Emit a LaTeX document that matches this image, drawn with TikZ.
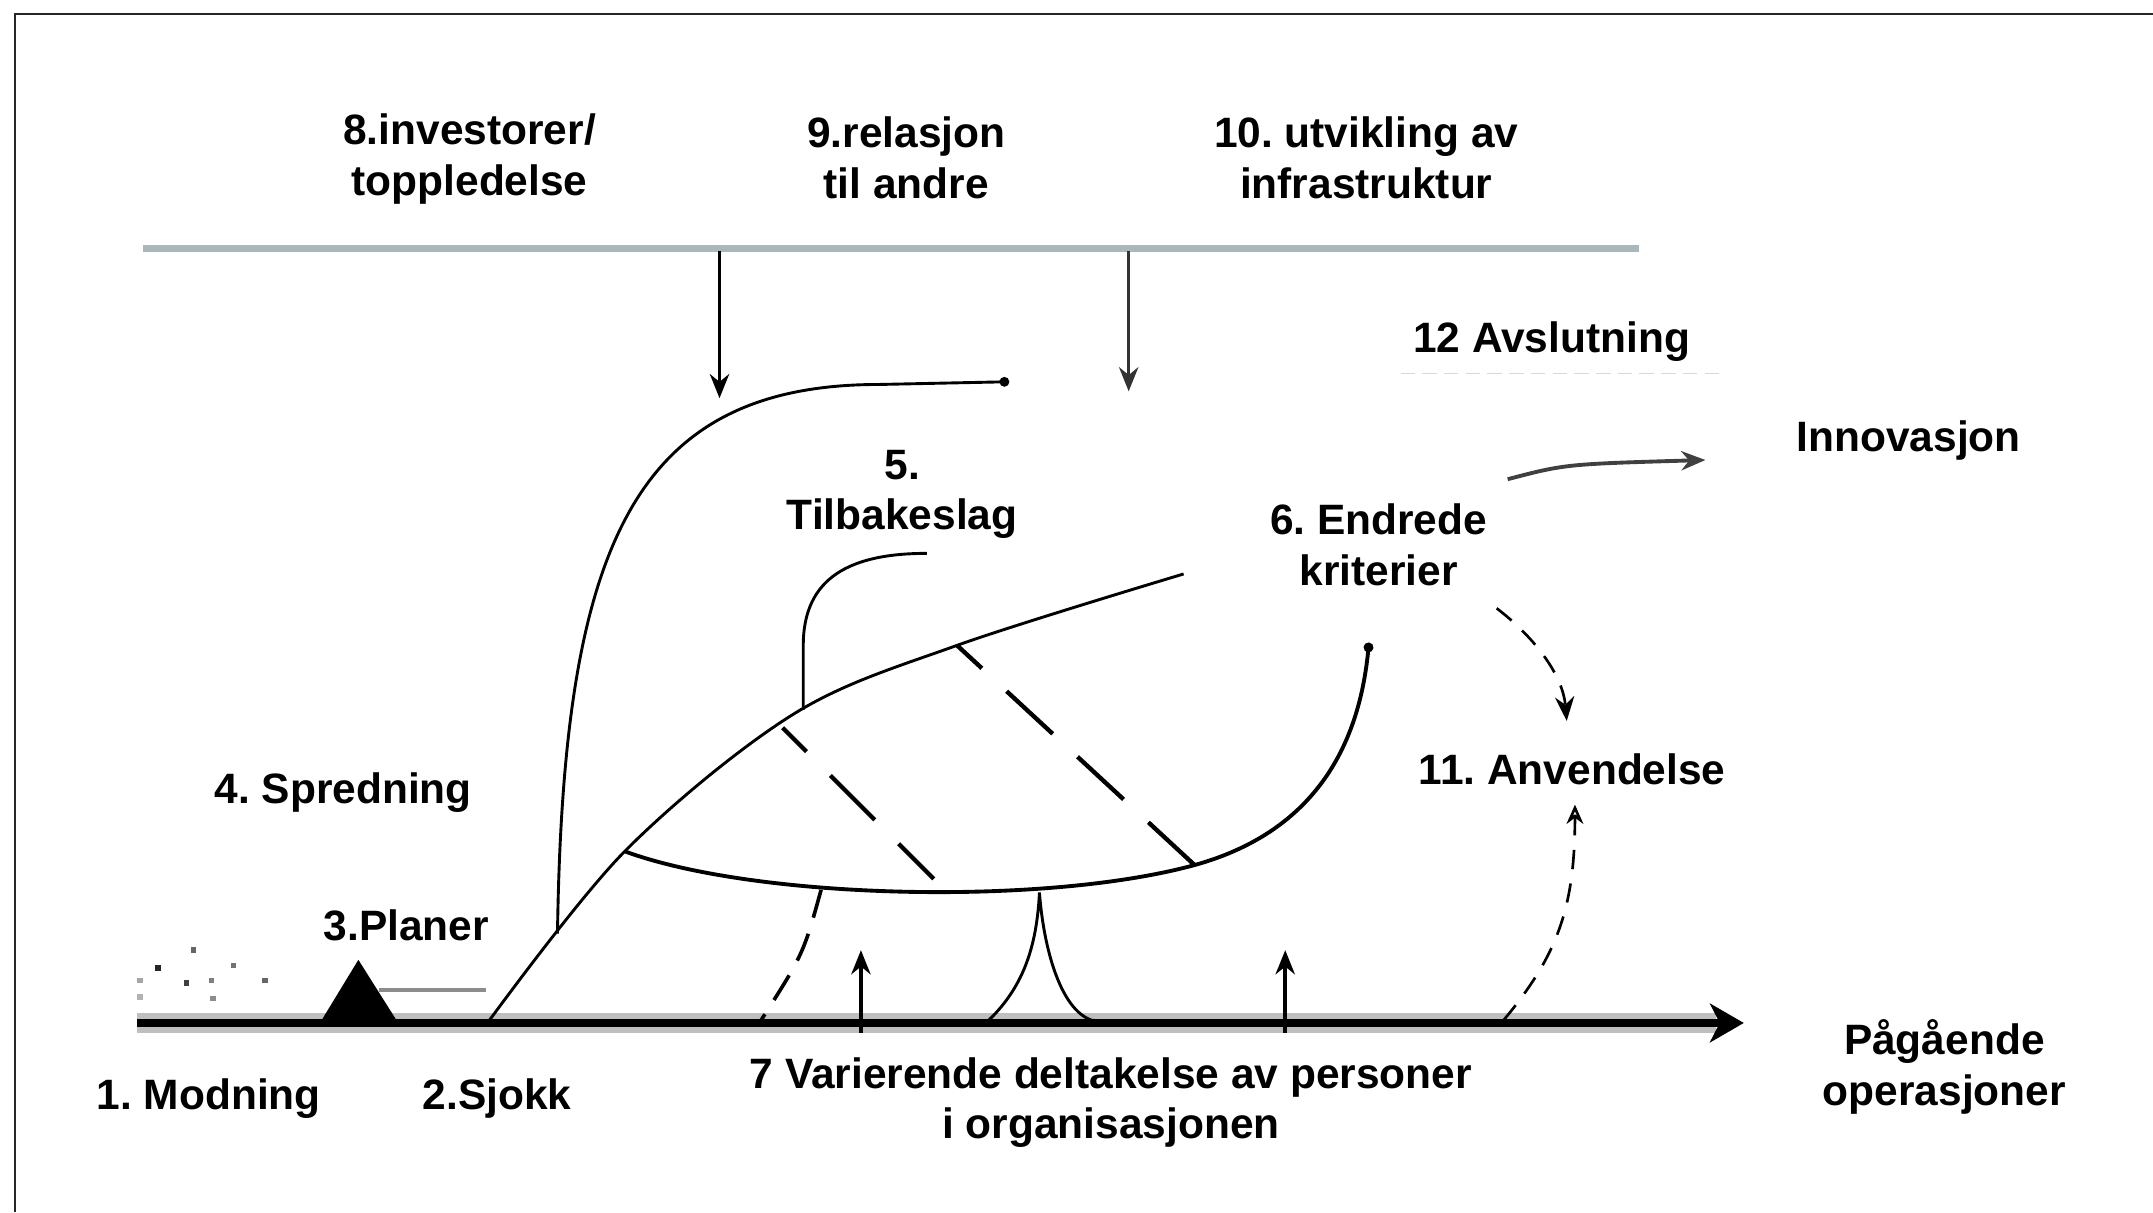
\documentclass[tikz,border=0pt]{standalone}
\usepackage{fontspec}
\setmainfont{Liberation Sans}
\frenchspacing
\usetikzlibrary{arrows.meta}
\definecolor{railgray}{HTML}{A8B8BA}
\tikzset{lbl/.style = {font=\fontsize{17.6}{21}\selectfont\bfseries, align=center, inner sep=0pt},
         curve/.style = {line width=1.2pt},
         longdash/.style = {line width=1.8pt, dash pattern=on 26pt off 14pt, dash phase=12pt},
         shortdash/.style = {line width=1.5pt, dash pattern=on 12pt off 7pt},
         thindash/.style = {line width=1.1pt, dash pattern=on 8pt off 6pt},
         downtip/.style = {-{Stealth[length=10pt,width=8pt]}},
         opentip/.style = {-{Stealth[open,length=8pt,width=7pt]}},
         dottip/.style = {-{Circle[length=4pt]}}}

\begin{document}
\begin{tikzpicture}[x=2cm,y=-2cm]
    \useasboundingbox (0,0) rectangle (15.68,8.83);
    \draw[line width=1pt, black!85](0.11,8.83)--(0.11,0.10)--(15.68,0.10);

    \node[lbl] (investor) at (3.42,1.16) {8.investorer/\\toppledelse};
    \node[lbl] (relasjon) at (6.60,1.15) {9.relasjon\\til andre};
    \node[lbl] (infra) at (9.95,1.15) {10. utvikling av\\infrastruktur};
    \node[lbl] (avslut) at (11.30,2.49) {12 Avslutning};
    \node[lbl] (innov) at (13.90,3.21) {Innovasjon};
    \node[lbl] (tilbake) at (6.57,3.60) {5.\\Tilbakeslag};
    \node[lbl] (kriterier) at (10.04,3.97) {6. Endrede\\kriterier};
    \node[lbl] (anvend) at (11.45,5.60) {11. Anvendelse};
    \node[lbl] (spredning) at (2.50,5.77) {4. Spredning};
    \node[lbl] (planer) at (2.96,6.74) {3.Planer};
    \node[lbl] (modning) at (1.52,8.00) {1. Modning};
    \node[lbl] (sjokk) at (3.62,8.00) {2.Sjokk};
    \node[lbl] (deltakelse) at (8.09,8.03) {7 Varierende deltakelse av personer\\i organisasjonen};
    \node[lbl] (drift) at (14.16,7.77) {Pågående\\operasjoner};

    \coordinate (railA) at (5.24,1.83); \coordinate (hitA) at (5.24,2.90);
    \coordinate (railB) at (8.22,1.83); \coordinate (hitB) at (8.22,2.85);
    \draw[line width=3pt, railgray](1.04,1.81)--(11.94,1.81);
    \draw[downtip, line width=1.5pt](railA)--(hitA);
    \draw[downtip, line width=1.4pt, black!80](railB)--(hitB);
    \draw[black!15, line width=0.8pt, dash pattern=on 6pt off 3pt](10.20,2.72)--(12.53,2.72);

    \coordinate (start) at (1.00,7.45); \coordinate (goal) at (12.70,7.45);
    \draw[line width=8pt, black!25](start)--(12.50,7.45);
    \draw[line width=3.2pt, -{Stealth[length=14pt,width=16pt,inset=4pt]}](start)--(goal);

    \foreach \x/\y/\g in {1.41/6.92/60, 1.15/7.05/85, 1.70/7.03/55, 1.36/7.16/75, 1.54/7.14/50, 1.93/7.14/60, 1.55/7.27/45, 1.02/7.14/35, 1.02/7.26/30}
        \fill[black!\g](\x-0.02,\y-0.02) rectangle (\x+0.02,\y+0.02);
    \fill[black](2.33,7.45)--(2.61,6.99)--(2.90,7.45)--cycle;
    \draw[line width=2pt, black!45](2.76,7.21)--(3.54,7.21);

    \coordinate (shock) at (3.55,7.45);
    \coordinate (lift) at (4.06,6.80);
    \coordinate (fork) at (4.55,6.20);
    \coordinate (knotA) at (5.78,5.20);
    \coordinate (knotB) at (6.97,4.70);
    \draw[curve] plot[smooth, tension=0.55] coordinates {(shock) (fork) (knotA) (knotB) (8.62,4.18)};

    \draw[curve, dottip](lift) .. controls (4.10,4.00) and (4.60,2.80) .. (6.40,2.80) -- (7.35,2.78);
    \draw[curve](5.85,5.17) -- (5.85,4.70) .. controls (5.85,4.20) and (6.20,4.03) .. (6.75,4.03);

    \draw[longdash](5.70,5.30)--(6.80,6.40);
    \draw[longdash](knotB)--(8.70,6.30);

    \draw[curve, line width=1.6pt, dottip](fork) .. controls (5.50,6.55) and (7.60,6.60) .. (8.70,6.30) .. controls (9.60,6.05) and (9.90,5.40) .. (9.97,4.68);
    \draw[shortdash](5.98,6.48) .. controls (5.85,6.95) .. (5.53,7.45);
    \draw[curve](7.18,7.45) .. controls (7.45,7.20) and (7.55,6.90) .. (7.57,6.50) .. controls (7.60,6.90) and (7.72,7.35) .. (7.95,7.43) -- (8.22,7.45);

    \draw[downtip, line width=1.5pt](6.27,7.52)--(6.27,6.92);
    \draw[downtip, line width=1.5pt](9.36,7.52)--(9.36,6.92);

    \draw[thindash, downtip](10.90,4.43) .. controls (11.15,4.62) and (11.38,4.90) .. (11.41,5.25);
    \draw[thindash, opentip](10.95,7.43) .. controls (11.35,6.95) and (11.47,6.60) .. (11.47,5.86);
    \draw[line width=1.6pt, black!75, downtip](10.98,3.49) .. controls (11.40,3.38) .. (12.42,3.35);
\end{tikzpicture}
\end{document}
